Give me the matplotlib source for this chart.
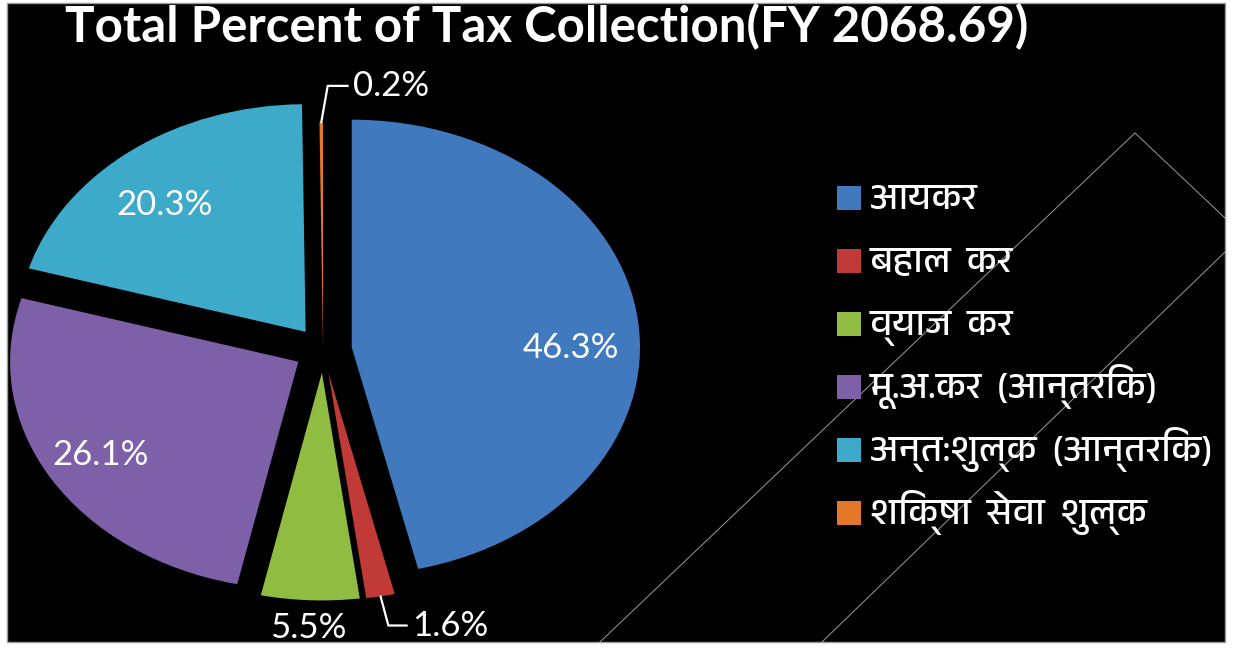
import numpy as np
import matplotlib
matplotlib.use("Agg")
import matplotlib.pyplot as plt
from matplotlib import font_manager
from matplotlib.patches import Rectangle
from matplotlib.lines import Line2D

# data
categories = ["आयकर", "बहाल  कर", "व्याज  कर", "मू.अ.कर  (आन्तरिक)",
              "अन्त:शुल्क  (आन्तरिक)", "शिक्षा  सेवा  शुल्क"]
shares = [46.3, 1.6, 5.5, 26.1, 20.3, 0.2]
colors = ["#4179BF", "#C03A38", "#8FBC41", "#7E60A8", "#3CAAC8", "#E4782A"]
explode = [0.1, 0.1, 0.1, 0.1, 0.1, 0.0]
title = "Total Percent of Tax Collection(FY 2068.69)"

# font for the Devanagari legend, if one is around
deva = [f.name for f in font_manager.fontManager.ttflist
        if "Devanagari" in f.name or "Lohit" in f.name or "Mangal" in f.name]
legend_family = [deva[0], "DejaVu Sans"] if deva else ["DejaVu Sans"]
label_family = ["Lato", "DejaVu Sans"]

fig = plt.figure(figsize=(12.33, 6.48), dpi=100, facecolor="white")

# black slide background with thin grey frame
W, H = 1233, 648
fig.add_artist(Rectangle((7 / W, 6 / H), 1218 / W, 639 / H, transform=fig.transFigure,
                         facecolor="black", edgecolor="#9a9a9a", linewidth=1.0, zorder=0))

# faint diagonal watermark strokes
for xs, ys in [([600, 1135, 1225], [642, 133, 218]), ([822, 1225], [642, 252])]:
    fig.add_artist(Line2D([x / W for x in xs], [1 - y / H for y in ys], transform=fig.transFigure,
                          color="#dddddd", linewidth=0.7, alpha=0.7, zorder=0.5))

# pie axes: stretched horizontally like the original
ax = fig.add_axes([6 / W, 2 / H, 663 / W, 592 / H])
ax.set_facecolor("none")
wedges, _ = ax.pie(shares, colors=colors, explode=explode, startangle=90, counterclock=False,
                   wedgeprops=dict(linewidth=0))
ax.set_aspect("auto")
ax.set_xlim(-1.1, 1.2)
ax.set_ylim(-1.3, 1.3)
ax.axis("off")

# inside labels: (radius, angle nudge in degrees)
inside = {0: (0.76, -7), 3: (0.80, 0), 4: (0.74, 4)}
for i, (w, val) in enumerate(zip(wedges, shares)):
    mid = np.deg2rad((w.theta1 + w.theta2) / 2)
    ex, ey = explode[i] * np.cos(mid), explode[i] * np.sin(mid)
    txt = f"{val:.1f}%"
    if i in inside:
        r, nudge = inside[i]
        a = mid + np.deg2rad(nudge)
        ax.text(ex + r * np.cos(a), ey + r * np.sin(a), txt, color="white",
                fontsize=25, ha="center", va="center", family=label_family)
    elif i == 2:
        ax.text(1.24 * np.cos(mid), 1.22 * np.sin(mid), txt, color="white",
                fontsize=25, ha="center", va="center", family=label_family)
    elif i == 1:
        ax.annotate(txt, xy=(ex + 1.0 * np.cos(mid), ey + 1.0 * np.sin(mid)),
                    xytext=(0.31, -1.21), color="white", fontsize=25, ha="left", va="center",
                    family=label_family,
                    arrowprops=dict(arrowstyle="-", color="white", lw=1.6,
                                    connectionstyle="angle,angleA=0,angleB=105,rad=0",
                                    shrinkA=2, shrinkB=0))
    else:
        ax.annotate(txt, xy=(ex + 1.0 * np.cos(mid), ey + 1.0 * np.sin(mid)),
                    xytext=(0.105, 1.16), color="white", fontsize=25, ha="left", va="center",
                    family=label_family,
                    arrowprops=dict(arrowstyle="-", color="white", lw=1.6,
                                    connectionstyle="angle,angleA=0,angleB=80,rad=0",
                                    shrinkA=2, shrinkB=0))

fig.text(65 / W, 1 - 27 / H, title, color="white", fontsize=35.5, fontweight="bold",
         ha="left", va="center", family=label_family)

# legend laid out row by row so the spacing stays even
row0, step = 198, 63
for i, (name, col) in enumerate(zip(categories, colors)):
    yc = row0 + i * step
    fig.add_artist(Rectangle((837 / W, 1 - (yc + 12) / H), 24 / W, 24 / H,
                             transform=fig.transFigure, facecolor=col, edgecolor="none"))
    fig.text(870 / W, 1 - (yc + 11) / H, name, color="white", fontsize=27,
             ha="left", va="baseline", family=legend_family)

fig.savefig("out.png", dpi=100, facecolor="white")
